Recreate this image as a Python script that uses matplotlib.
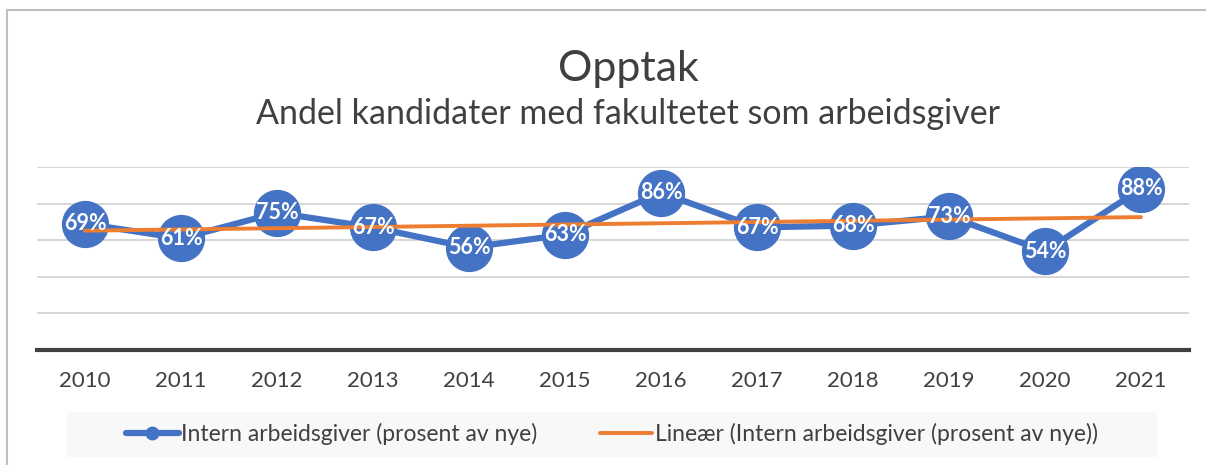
import numpy as np
import matplotlib.pyplot as plt
from matplotlib.lines import Line2D
from matplotlib.patches import Rectangle

plt.rcParams['font.family'] = ['Lato', 'DejaVu Sans']

# data
years = ["2010", "2011", "2012", "2013", "2014", "2015",
         "2016", "2017", "2018", "2019", "2020", "2021"]
intern = [69, 61, 75, 67, 56, 63, 86, 67, 68, 73, 54, 88]

BLUE = "#4472C4"
ORANGE = "#ED7D31"
GREY_TXT = "#404040"

x = np.arange(len(years))
y = np.array(intern, dtype=float)

# linear trendline (as in Excel)
k, m = np.polyfit(x, y, 1)
trend = k * x + m

fig = plt.figure(figsize=(12.06, 4.65), dpi=100)
ax = fig.add_axes([37 / 1206, 1 - 350 / 465, (1189 - 37) / 1206, (350 - 167) / 465])

for g in [20, 40, 60, 80, 100]:
    ax.axhline(g, color="#d0d0d0", lw=1.2, zorder=0)

ax.plot(x, y, color=BLUE, lw=4.5, marker="o", markersize=33,
        markerfacecolor=BLUE, markeredgecolor=BLUE, zorder=2)
ax.plot(x, trend, color=ORANGE, lw=2.8, zorder=3, solid_capstyle="round")

for xi, yi in zip(x, intern):
    ax.text(xi, yi, f"{yi}%", color="white", fontsize=15.5, fontweight="bold",
            ha="center", va="center", zorder=4)

ax.set_xlim(-0.5, len(years) - 0.5)
ax.set_ylim(0, 100)
ax.set_xticks(x)
ax.set_xticklabels(years, fontsize=16, color=GREY_TXT)
ax.tick_params(axis="x", length=0, pad=15)
ax.set_yticks([])
for s in ["top", "right", "left"]:
    ax.spines[s].set_visible(False)
ax.spines["bottom"].set_color(GREY_TXT)
ax.spines["bottom"].set_linewidth(3)
ax.patch.set_alpha(0)

fig.text(628 / 1206, 1 - 69 / 465, "Opptak", ha="center", va="center",
         fontsize=31, color=GREY_TXT)
fig.text(628 / 1206, 1 - 114 / 465, "Andel kandidater med fakultetet som arbeidsgiver",
         ha="center", va="center", fontsize=24.5, color=GREY_TXT)

# outer frame (top + left)
fig.add_artist(Line2D([7 / 1206, 7 / 1206], [0, 1 - 10 / 465], transform=fig.transFigure,
                      color="#bfbfbf", lw=1.5))
fig.add_artist(Line2D([7 / 1206, 1], [1 - 10 / 465, 1 - 10 / 465], transform=fig.transFigure,
                      color="#bfbfbf", lw=1.5))

# legend background
fig.add_artist(Rectangle((67 / 1206, 1 - 457 / 465), (1157 - 67) / 1206, 45 / 465,
                         transform=fig.transFigure, facecolor="#f8f8f8",
                         edgecolor="none", zorder=0))

handles = [
    Line2D([], [], color=BLUE, lw=4.5, marker="o", markersize=9, solid_capstyle="round"),
    Line2D([], [], color=ORANGE, lw=2.8, solid_capstyle="round"),
]
labels = ["Intern arbeidsgiver (prosent av nye)",
          "Lineær (Intern arbeidsgiver (prosent av nye))"]
fig.legend(handles, labels, loc="center", bbox_to_anchor=(612 / 1206, 1 - 434 / 465),
           ncol=2, frameon=False, fontsize=16.5, handlelength=2.3, handletextpad=0.12,
           columnspacing=2.7, labelcolor=GREY_TXT)

fig.savefig("out.png", dpi=100)
